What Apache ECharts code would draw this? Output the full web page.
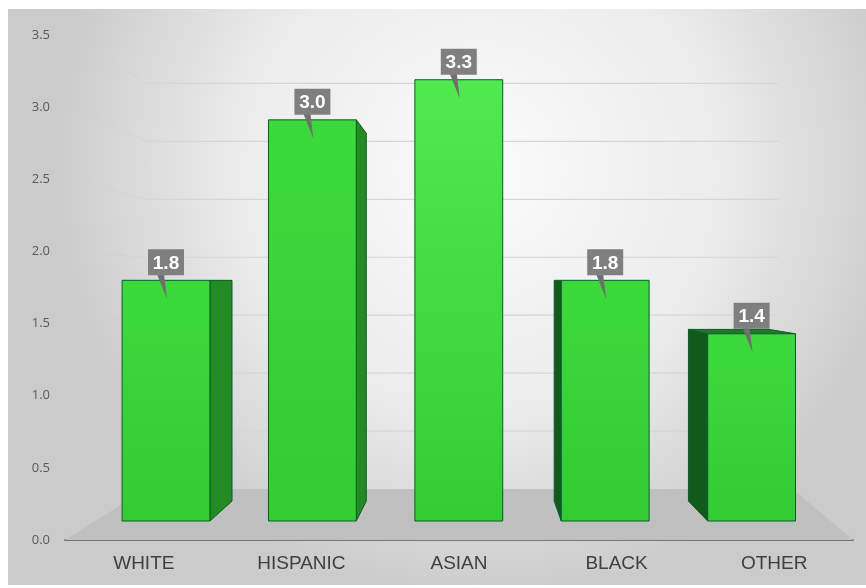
<!DOCTYPE html>
<html>
<head>
<meta charset="utf-8">
<script src="https://cdn.jsdelivr.net/npm/echarts@6/dist/echarts.min.js"></script>
<style>
html,body{margin:0;padding:0;background:#ffffff;}
#chart{width:866px;height:588px;}
</style>
</head>
<body>
<div id="chart"></div>
<script>
// ---- data ----
var categories = ['WHITE', 'HISPANIC', 'ASIAN', 'BLACK', 'OTHER'];
var values = [1.8, 3.0, 3.3, 1.8, 1.4];
var valueLabels = ['1.8', '3.0', '3.3', '1.8', '1.4'];
var wallTicks = [0.5, 1.0, 1.5, 2.0, 2.5, 3.0, 3.5];

// ---- perspective helpers (style only) ----
var VP = [476, 281];
var WALL_DEPTH = 0.803;
var BAR_DEPTH = 0.917;
function proj(p, f) {
  return [VP[0] + f * (p[0] - VP[0]), VP[1] + f * (p[1] - VP[1])];
}

var chart = echarts.init(document.getElementById('chart'), null, {renderer: 'canvas'});

function renderWall(params, api) {
  var v = api.value(0);
  var a = api.coord([0, v]);
  var b = api.coord([1, v]);
  var ba = proj(a, WALL_DEPTH);
  var bb = proj(b, WALL_DEPTH);
  if (v === 0) {
    return {
      type: 'polygon',
      shape: {points: [a, b, [bb[0] + 14, bb[1]], ba]},
      style: {fill: '#c0c0c0', stroke: null},
      z2: 1
    };
  }
  return {
    type: 'group',
    children: [
      {type: 'polyline', shape: {points: [[a[0] + 5, a[1]], ba]}, style: {stroke: 'rgba(205,205,205,0.5)', lineWidth: 1, fill: null}},
      {type: 'line', shape: {x1: ba[0], y1: ba[1], x2: bb[0], y2: bb[1]}, style: {stroke: '#d6d6d6', lineWidth: 1.2}}
    ]
  };
}

function renderBar(params, api) {
  var i = api.value(0);
  var v = api.value(1);
  var base = api.coord([i, 0]);
  var top = api.coord([i, v]);
  var w = api.size([1, 0])[0] * 0.6;
  var x0 = base[0] - w / 2, x1 = base[0] + w / 2;
  var yb = base[1], yt = top[1];
  var children = [];
  var border = '#0b5a2a';
  if (x1 < VP[0] - 20) {
    var p1 = [x1, yt], p2 = [x1, yb];
    var q1 = proj(p1, BAR_DEPTH), q2 = proj(p2, BAR_DEPTH);
    children.push({type: 'polygon', shape: {points: [p1, q1, q2, p2]},
      style: {fill: '#228b22', stroke: border, lineWidth: 1}});
  }
  if (x0 > VP[0] + 20) {
    var l1 = [x0, yt], l2 = [x0, yb];
    var m1 = proj(l1, BAR_DEPTH), m2 = proj(l2, BAR_DEPTH);
    children.push({type: 'polygon', shape: {points: [l1, m1, m2, l2]},
      style: {fill: '#115a1b', stroke: border, lineWidth: 1}});
  }
  if (yt > VP[1] + 2) {
    var t1 = [x0, yt], t2 = [x1, yt];
    children.push({type: 'polygon', shape: {points: [t1, t2, proj(t2, BAR_DEPTH), proj(t1, BAR_DEPTH)]},
      style: {fill: '#1d7a22', stroke: border, lineWidth: 1}});
  }
  children.push({
    type: 'rect',
    shape: {x: x0, y: yt, width: w, height: yb - yt},
    style: {
      fill: new echarts.graphic.LinearGradient(0, 0, 0, 1, [
        {offset: 0, color: i === 2 ? '#50ea50' : '#3cd93c'},
        {offset: 1, color: '#33cc33'}
      ]),
      stroke: border, lineWidth: 1
    }
  });
  var cx = base[0];
  var bw = 36, bh = 26;
  var bx = cx - bw / 2, by = yt - 5 - bh;
  children.push({type: 'polygon', shape: {points: [[cx - 9, by + bh - 1], [cx - 2, by + bh - 1], [cx + 1, yt + 19]]},
    style: {fill: '#6f6f6f'}});
  children.push({type: 'rect', shape: {x: bx, y: by, width: bw, height: bh},
    style: {fill: '#7f7f7f'}});
  children.push({type: 'text', style: {
    text: valueLabels[i], x: cx, y: by + bh / 2 + 1,
    align: 'center', verticalAlign: 'middle',
    fill: '#ffffff', font: 'bold 19px "Liberation Sans", Arial, sans-serif'
  }});
  return {type: 'group', children: children};
}

var barData = values.map(function (v, i) { return [i, v]; });
var wallData = [[0]].concat(wallTicks.map(function (t) { return [t]; }));

var option = {
  animation: false,
  backgroundColor: '#ffffff',
  graphic: [{
    type: 'rect', z: -10,
    shape: {x: 8, y: 9, width: 858, height: 576},
    style: {
      fill: new echarts.graphic.RadialGradient(0.55, 0.28, 0.75, [
        {offset: 0, color: '#fbfbfb'},
        {offset: 0.55, color: '#ececec'},
        {offset: 1, color: '#cbcbcb'}
      ])
    }
  }],
  grid: [
    {left: 92.8, right: 41.2, top: 53, bottom: 67},
    {left: 65, right: 13, top: 35, bottom: 48}
  ],
  xAxis: [
    {
      type: 'category', gridIndex: 0, data: categories, show: false
    },
    {
      type: 'value', gridIndex: 1, min: 0, max: 1, show: false, position: 'top'
    },
    {
      type: 'category', gridIndex: 1, data: categories, position: 'bottom',
      axisLine: {show: true, lineStyle: {color: '#5a5a5a', width: 1.6}},
      axisTick: {show: false},
      axisLabel: {margin: 14, color: '#404040', fontSize: 19, fontFamily: '"Liberation Sans", Arial, sans-serif'},
      splitLine: {show: false}
    }
  ],
  yAxis: [
    {
      type: 'value', gridIndex: 0, min: 0, max: 3.5,
      show: false, splitLine: {show: false}
    },
    {
      type: 'value', gridIndex: 1, min: 0, max: 3.5, interval: 0.5,
      axisLine: {show: false}, axisTick: {show: false}, splitLine: {show: false},
      axisLabel: {
        margin: 15, color: '#595959', fontSize: 13, fontFamily: '"Open Sans", "Liberation Sans", sans-serif',
        formatter: function (v) { return v.toFixed(1); }
      }
    }
  ],
  series: [
    {
      type: 'custom', xAxisIndex: 1, yAxisIndex: 1, z: 1,
      renderItem: renderWall, data: wallData, silent: true
    },
    {
      type: 'custom', xAxisIndex: 0, yAxisIndex: 0, z: 5,
      renderItem: renderBar, data: barData
    }
  ]
};
chart.setOption(option);
</script>
</body>
</html>
